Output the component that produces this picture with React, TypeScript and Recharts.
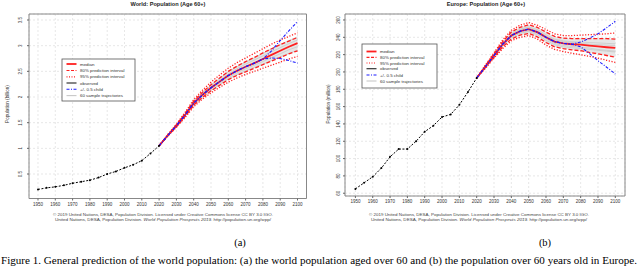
import React from 'react'
import { ComposedChart, Line, Area, XAxis, YAxis, CartesianGrid, ReferenceArea } from 'recharts'

// ── Years / ticks ─────────────────────────────────────────────────────────
const OBS_YEARS = [1950, 1955, 1960, 1965, 1970, 1975, 1980, 1985, 1990, 1995, 2000, 2005, 2010, 2015, 2020]
const PROJ_YEARS = [2020, 2025, 2030, 2035, 2040, 2045, 2050, 2055, 2060, 2065, 2070, 2075, 2080, 2085, 2090, 2095, 2100]
const X_TICKS = [1950, 1960, 1970, 1980, 1990, 2000, 2010, 2020, 2030, 2040, 2050, 2060, 2070, 2080, 2090, 2100]

// ── World, billions ───────────────────────────────────────────────────────
const worldObs = [0.2, 0.23, 0.25, 0.28, 0.32, 0.35, 0.38, 0.43, 0.5, 0.55, 0.62, 0.68, 0.76, 0.9, 1.05]
const worldMedian = [1.05, 1.25, 1.44, 1.65, 1.88, 2.04, 2.18, 2.3, 2.42, 2.51, 2.59, 2.66, 2.74, 2.82, 2.9, 2.98, 3.05]
const worldLo80 = [1.05, 1.24, 1.42, 1.62, 1.84, 1.99, 2.12, 2.23, 2.34, 2.42, 2.49, 2.56, 2.63, 2.7, 2.77, 2.84, 2.9]
const worldHi80 = [1.05, 1.26, 1.46, 1.68, 1.92, 2.09, 2.24, 2.37, 2.5, 2.6, 2.69, 2.77, 2.86, 2.94, 3.02, 3.09, 3.16]
const worldLo95 = [1.05, 1.24, 1.41, 1.6, 1.81, 1.96, 2.08, 2.19, 2.29, 2.37, 2.44, 2.5, 2.56, 2.62, 2.68, 2.74, 2.79]
const worldHi95 = [1.05, 1.27, 1.47, 1.7, 1.95, 2.13, 2.29, 2.43, 2.56, 2.67, 2.76, 2.85, 2.94, 3.03, 3.11, 3.18, 3.25]
const worldChildHi = [1.05, 1.25, 1.44, 1.65, 1.88, 2.04, 2.18, 2.3, 2.42, 2.51, 2.59, 2.66, 2.74, 2.9, 3.1, 3.29, 3.47]
const worldChildLo = [1.05, 1.25, 1.44, 1.65, 1.88, 2.04, 2.18, 2.3, 2.42, 2.51, 2.59, 2.66, 2.74, 2.76, 2.75, 2.71, 2.66]
const worldTraj1 = [1.05, 1.25, 1.45, 1.67, 1.91, 2.08, 2.23, 2.36, 2.49, 2.59, 2.68, 2.76, 2.85, 2.94, 3.02, 3.1, 3.17]
const worldTraj2 = [1.05, 1.24, 1.43, 1.63, 1.85, 2.0, 2.13, 2.24, 2.35, 2.44, 2.51, 2.58, 2.64, 2.71, 2.78, 2.85, 2.91]
const worldTraj3 = [1.05, 1.25, 1.44, 1.66, 1.89, 2.06, 2.2, 2.33, 2.45, 2.55, 2.64, 2.72, 2.8, 2.88, 2.96, 3.04, 3.11]
const worldTraj4 = [1.05, 1.25, 1.43, 1.64, 1.86, 2.02, 2.16, 2.27, 2.38, 2.47, 2.55, 2.62, 2.69, 2.77, 2.84, 2.92, 2.98]
const WORLD_Y_TICKS = [0.5, 1, 1.5, 2, 2.5, 3, 3.5]

// ── Europe, millions ──────────────────────────────────────────────────────
const europeObs = [65, 72, 79, 89, 102, 111, 111, 120, 131, 138, 148, 151, 162, 177, 193]
const europeMedian = [193, 206, 219, 232, 242, 247, 249.5, 246, 240, 235, 233, 232, 231.5, 230.5, 229.5, 228.5, 227.7]
const europeLo80 = [193, 205, 217, 229, 238, 242.5, 244.5, 240.5, 234, 229, 227, 225.5, 224.5, 222.5, 221, 219, 217]
const europeHi80 = [193, 207, 221, 235, 246, 251.5, 254.5, 251.5, 246, 241, 239, 238.5, 238.5, 238.5, 238.5, 238.5, 238]
const europeLo95 = [193, 204, 216, 227, 236, 240, 242, 238, 231, 226, 223.5, 221.5, 220, 218, 216, 213.5, 211]
const europeHi95 = [193, 208, 222, 237, 248, 254, 257, 254, 249, 244, 242, 242, 242.5, 243, 243.5, 244, 245]
const europeChildHi = [193, 206, 219, 232, 242, 247, 249.5, 246, 240, 235, 233, 232, 234.5, 239, 244, 251, 258.5]
const europeChildLo = [193, 206, 219, 232, 242, 247, 249.5, 246, 240, 235, 233, 232, 229, 221.5, 213, 205.5, 197.7]
const europeTraj1 = [193, 206, 220, 234, 244, 249.5, 252, 249, 243, 238, 236, 235, 234.5, 234, 233.5, 233, 232.5]
const europeTraj2 = [193, 205, 218, 230, 240, 244.5, 246.5, 243, 236.5, 231.5, 229, 228, 227, 226, 225, 224, 223]
const europeTraj3 = [193, 206, 219, 233, 243, 248.5, 251, 247.5, 241.5, 237, 235, 234, 233, 232, 231.5, 231, 230.5]
const europeTraj4 = [193, 205.5, 218.5, 231, 241, 245.5, 247.5, 244.5, 238.5, 233, 230.5, 229.5, 228.5, 227.5, 226, 225, 224]
const EUROPE_Y_TICKS = [60, 80, 100, 120, 140, 160, 180, 200, 220, 240, 260]

const LEGEND_ITEMS = ['median', '80% prediction interval', '95% prediction interval', 'observed', '+/- 0.5 child', '60 sample trajectories']

const FONT = '"Liberation Sans", Arial, sans-serif'

function buildRows(obs: number[], med: number[], lo80: number[], hi80: number[], lo95: number[], hi95: number[],
  childLo: number[], childHi: number[], trajs: number[][]) {
  const years = Array.from(new Set([...OBS_YEARS, ...PROJ_YEARS]))
  return years.map((year) => {
    const oi = OBS_YEARS.indexOf(year)
    const pi = PROJ_YEARS.indexOf(year)
    const p = (arr: number[]) => (pi >= 0 ? arr[pi] : null)
    return {
      year,
      obs: oi >= 0 ? obs[oi] : null,
      median: p(med),
      lo80: p(lo80), hi80: p(hi80), lo95: p(lo95), hi95: p(hi95),
      childLo: p(childLo), childHi: p(childHi),
      t1: p(trajs[0]), t2: p(trajs[1]), t3: p(trajs[2]), t4: p(trajs[3]),
      band: pi >= 0 ? [lo80[pi], hi80[pi]] : null,
    }
  })
}

const worldRows = buildRows(worldObs, worldMedian, worldLo80, worldHi80, worldLo95, worldHi95,
  worldChildLo, worldChildHi, [worldTraj1, worldTraj2, worldTraj3, worldTraj4])
const europeRows = buildRows(europeObs, europeMedian, europeLo80, europeHi80, europeLo95, europeHi95,
  europeChildLo, europeChildHi, [europeTraj1, europeTraj2, europeTraj3, europeTraj4])

function VTick({ x, y, payload, dx }: any) {
  const tx = x - dx
  return (
    <text x={tx} y={y} transform={`rotate(-90 ${tx} ${y})`} textAnchor="middle" fontSize={4.5} fill="#333" fontFamily={FONT}>
      {payload.value}
    </text>
  )
}

function PopChart({ rows, xDomain, yDomain, yTicks, margin, tickDx }: any) {
  const flat = { dot: false, activeDot: false, isAnimationActive: false, connectNulls: false } as any
  return (
    <ComposedChart width={320} height={212} data={rows} margin={margin}>
      <CartesianGrid stroke="#dcdcdc" strokeDasharray="2 2" strokeWidth={0.7} />
      <XAxis dataKey="year" type="number" domain={xDomain} ticks={X_TICKS} allowDataOverflow interval={0}
        tick={{ fontSize: 4.5, fill: '#333', fontFamily: FONT }} tickSize={2} tickMargin={2}
        axisLine={false} tickLine={{ stroke: '#666' }} height={12} />
      <YAxis type="number" domain={yDomain} ticks={yTicks} allowDataOverflow width={20} interval={0}
        tick={<VTick dx={tickDx} />} tickSize={2} tickMargin={1} axisLine={false} tickLine={{ stroke: '#666' }} />
      <Area dataKey="band" stroke="none" fill="#e6e6e6" fillOpacity={1} isAnimationActive={false} activeDot={false} />
      <Line dataKey="t1" stroke="#c4c4c4" strokeWidth={0.7} {...flat} />
      <Line dataKey="t2" stroke="#c4c4c4" strokeWidth={0.7} {...flat} />
      <Line dataKey="t3" stroke="#c4c4c4" strokeWidth={0.7} {...flat} />
      <Line dataKey="t4" stroke="#c4c4c4" strokeWidth={0.7} {...flat} />
      <Line dataKey="lo95" stroke="#ff2020" strokeWidth={1.3} strokeDasharray="1.2 1.6" {...flat} />
      <Line dataKey="hi95" stroke="#ff2020" strokeWidth={1.3} strokeDasharray="1.2 1.6" {...flat} />
      <Line dataKey="lo80" stroke="#ff2020" strokeWidth={1.3} strokeDasharray="4 2" {...flat} />
      <Line dataKey="hi80" stroke="#ff2020" strokeWidth={1.3} strokeDasharray="4 2" {...flat} />
      <Line dataKey="median" stroke="#ff2020" strokeWidth={1.8} {...flat} />
      <Line dataKey="childHi" stroke="#1a1aff" strokeWidth={1.1} strokeDasharray="3 1.5 1 1.5" {...flat} />
      <Line dataKey="childLo" stroke="#1a1aff" strokeWidth={1.1} strokeDasharray="3 1.5 1 1.5" {...flat} />
      <Line dataKey="obs" stroke="#000" strokeWidth={1} strokeDasharray="2 1.5" dot={{ r: 1, fill: '#000', stroke: 'none' }}
        activeDot={false} isAnimationActive={false} connectNulls={false} />
      <ReferenceArea x1={xDomain[0]} x2={xDomain[1]} y1={yDomain[0]} y2={yDomain[1]} fill="none" stroke="#888"
        strokeWidth={1} ifOverflow="visible" />
    </ComposedChart>
  )
}

function LegendBox({ x, y, w, h, rowY, swX, textX }: any) {
  const styles = [
    { stroke: '#ff2020', sw: 1.8, dash: undefined },
    { stroke: '#ff2020', sw: 1.2, dash: '3 1.5' },
    { stroke: '#ff2020', sw: 1.2, dash: '1 1.5' },
    { stroke: '#333', sw: 1.2, dash: undefined },
    { stroke: '#1a1aff', sw: 1.1, dash: '3 1.5 1 1.5' },
    { stroke: '#c8c8c8', sw: 1.1, dash: undefined },
  ]
  return (
    <g>
      <rect x={x} y={y} width={w} height={h} fill="#fff" stroke="#555" strokeWidth={0.8} />
      {LEGEND_ITEMS.map((label, i) => (
        <g key={label}>
          <line x1={swX} x2={swX + 10} y1={rowY[i]} y2={rowY[i]} stroke={styles[i].stroke}
            strokeWidth={styles[i].sw} strokeDasharray={styles[i].dash} />
          <text x={textX} y={rowY[i] + 1.5} fontSize={4.4} fill="#333" fontFamily={FONT}>{label}</text>
        </g>
      ))}
    </g>
  )
}

function Credits({ cx }: { cx: number }) {
  return (
    <g fontFamily={FONT} fontSize={3.6} fill="#444" textAnchor="middle">
      <text x={cx} y={216} textLength={220} lengthAdjust="spacingAndGlyphs">
        © 2019 United Nations, DESA, Population Division. Licensed under Creative Commons license CC BY 3.0 IGO.
      </text>
      <text x={cx} y={221} textLength={216} lengthAdjust="spacingAndGlyphs">
        United Nations, DESA, Population Division. <tspan fontStyle="italic">World Population Prospects 2019</tspan>. http://population.un.org/wpp/
      </text>
    </g>
  )
}

export default function App() {
  return (
    <div style={{ position: 'absolute', left: 0, top: 0, width: 640, height: 270, background: '#fff', overflow: 'hidden' }}>
      <div style={{ position: 'absolute', left: 0, top: 0 }}>
        <PopChart rows={worldRows} xDomain={[1944.8, 2105.2]} yDomain={[0.023, 3.617]} yTicks={WORLD_Y_TICKS}
          margin={{ top: 14, right: 13.5, bottom: 1.5, left: 9 }} tickDx={4} />
      </div>
      <div style={{ position: 'absolute', left: 320, top: 0 }}>
        <PopChart rows={europeRows} xDomain={[1944, 2105.6]} yDomain={[56.8, 266.9]} yTicks={EUROPE_Y_TICKS}
          margin={{ top: 14, right: 15, bottom: 4, left: 5 }} tickDx={1.5} />
      </div>
      <svg width={640} height={270} style={{ position: 'absolute', left: 0, top: 0, pointerEvents: 'none' }}>
        <text x={168} y={6} textAnchor="middle" fontSize={5.6} fontWeight="bold" fontFamily={FONT} fill="#222">
          World: Population (Age 60+)
        </text>
        <text x={486} y={6} textAnchor="middle" fontSize={5.6} fontWeight="bold" fontFamily={FONT} fill="#222">
          Europe: Population (Age 60+)
        </text>
        <text x={9} y={104} transform="rotate(-90 9 104)" textAnchor="middle" fontSize={4.6} fontFamily={FONT} fill="#333">
          Population (billion)
        </text>
        <text x={329.5} y={104} transform="rotate(-90 329.5 104)" textAnchor="middle" fontSize={4.6} fontFamily={FONT} fill="#333">
          Population (million)
        </text>
        <LegendBox x={62} y={59} w={73} h={42} rowY={[64, 70.5, 76.8, 83, 89.3, 95.6]} swX={66.5} textX={80} />
        <LegendBox x={362} y={44} w={75} h={44} rowY={[51.5, 57.3, 63, 68.7, 75, 81]} swX={366.5} textX={380} />
        <Credits cx={163} />
        <Credits cx={479} />
        <text x={240} y={246} textAnchor="middle" fontSize={10.5} fontFamily='"Liberation Serif", "Times New Roman", serif' fill="#000">(a)</text>
        <text x={545} y={246} textAnchor="middle" fontSize={10.5} fontFamily='"Liberation Serif", "Times New Roman", serif' fill="#000">(b)</text>
        <text x={1} y={264} fontSize={10.5} fontFamily='"Liberation Serif", "Times New Roman", serif' fill="#000"
          textLength={636} lengthAdjust="spacingAndGlyphs">
          Figure 1. General prediction of the world population: (a) the world population aged over 60 and (b) the population over 60 years old in Europe.
        </text>
      </svg>
    </div>
  )
}
